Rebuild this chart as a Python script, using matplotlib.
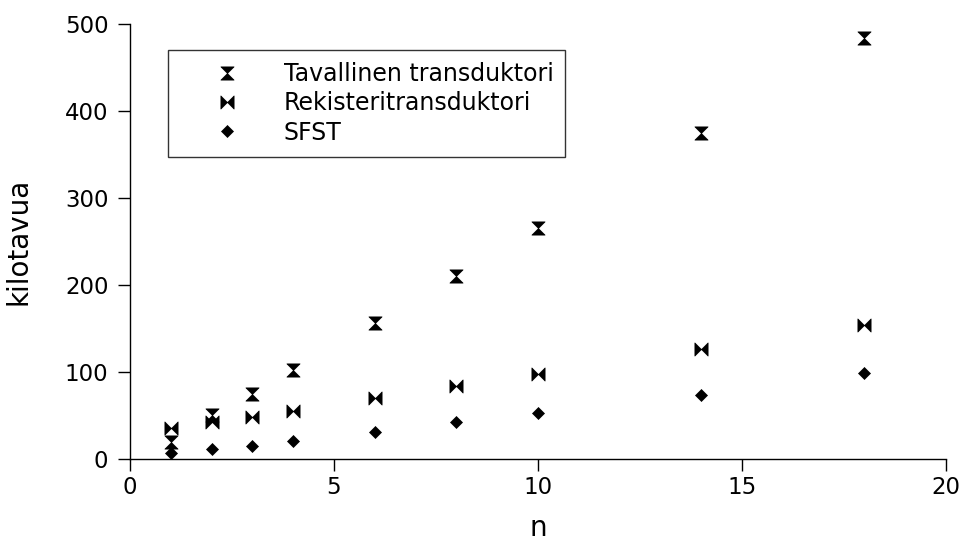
import numpy as np
import matplotlib
matplotlib.use("Agg")
import matplotlib.pyplot as plt
from matplotlib.path import Path

# data
n_values = [1, 2, 3, 4, 6, 8, 10, 14, 18]
tavallinen = [19.5, 51, 74.5, 102, 156, 210, 265, 375, 484]
rekisteri = [35.5, 42.5, 48, 55, 70, 84, 98, 126, 154]
sfst = [7, 11.5, 15, 21, 31, 42.5, 53, 74, 99]

# hourglass (vertical) and bowtie (horizontal) markers
hourglass = Path([(-1, 1), (1, 1), (0, 0), (-1, 1),
                  (-1, -1), (1, -1), (0, 0), (-1, -1)],
                 [Path.MOVETO, Path.LINETO, Path.LINETO, Path.CLOSEPOLY,
                  Path.MOVETO, Path.LINETO, Path.LINETO, Path.CLOSEPOLY])
bowtie = Path([(-1, 1), (-1, -1), (0, 0), (-1, 1),
               (1, 1), (1, -1), (0, 0), (1, 1)],
              [Path.MOVETO, Path.LINETO, Path.LINETO, Path.CLOSEPOLY,
               Path.MOVETO, Path.LINETO, Path.LINETO, Path.CLOSEPOLY])

fig = plt.figure(figsize=(9.67, 5.4), dpi=100)
ax = fig.add_axes([0.1344, 0.15, 0.8436, 0.8056])

ax.plot(n_values, tavallinen, linestyle='none', marker=hourglass, markersize=9.5,
        markeredgewidth=0.5, color='black', label='Tavallinen transduktori')
ax.plot(n_values, rekisteri, linestyle='none', marker=bowtie, markersize=9.5,
        markeredgewidth=0.5, color='black', label='Rekisteritransduktori')
ax.plot(n_values, sfst, linestyle='none', marker='D', markersize=6.3,
        markeredgewidth=0.5, color='black', label='SFST')

ax.set_xlim(0, 20)
ax.set_ylim(0, 500)
ax.set_xticks([0, 5, 10, 15, 20])
ax.set_yticks([0, 100, 200, 300, 400, 500])

for s in ['top', 'right']:
    ax.spines[s].set_visible(False)
for s in ['left', 'bottom']:
    ax.spines[s].set_linewidth(1.0)
ax.tick_params(direction='out', length=8.5, width=1.0, labelsize=16.5)
ax.tick_params(axis='y', pad=7)
ax.tick_params(axis='x', pad=4)

ax.set_xlabel('n', fontsize=20, labelpad=10.5)
ax.set_ylabel('kilotavua', fontsize=20, labelpad=23.5)

leg = ax.legend(loc='upper left', bbox_to_anchor=(0.0466, 0.94), borderaxespad=0,
                fontsize=17, frameon=True, fancybox=False, shadow=False,
                handlelength=4.0, handletextpad=0.4, labelspacing=0.23,
                borderpad=0.5, numpoints=1)
leg.get_frame().set_edgecolor('black')
leg.get_frame().set_linewidth(1.0)

plt.savefig('out.png', dpi=100)
